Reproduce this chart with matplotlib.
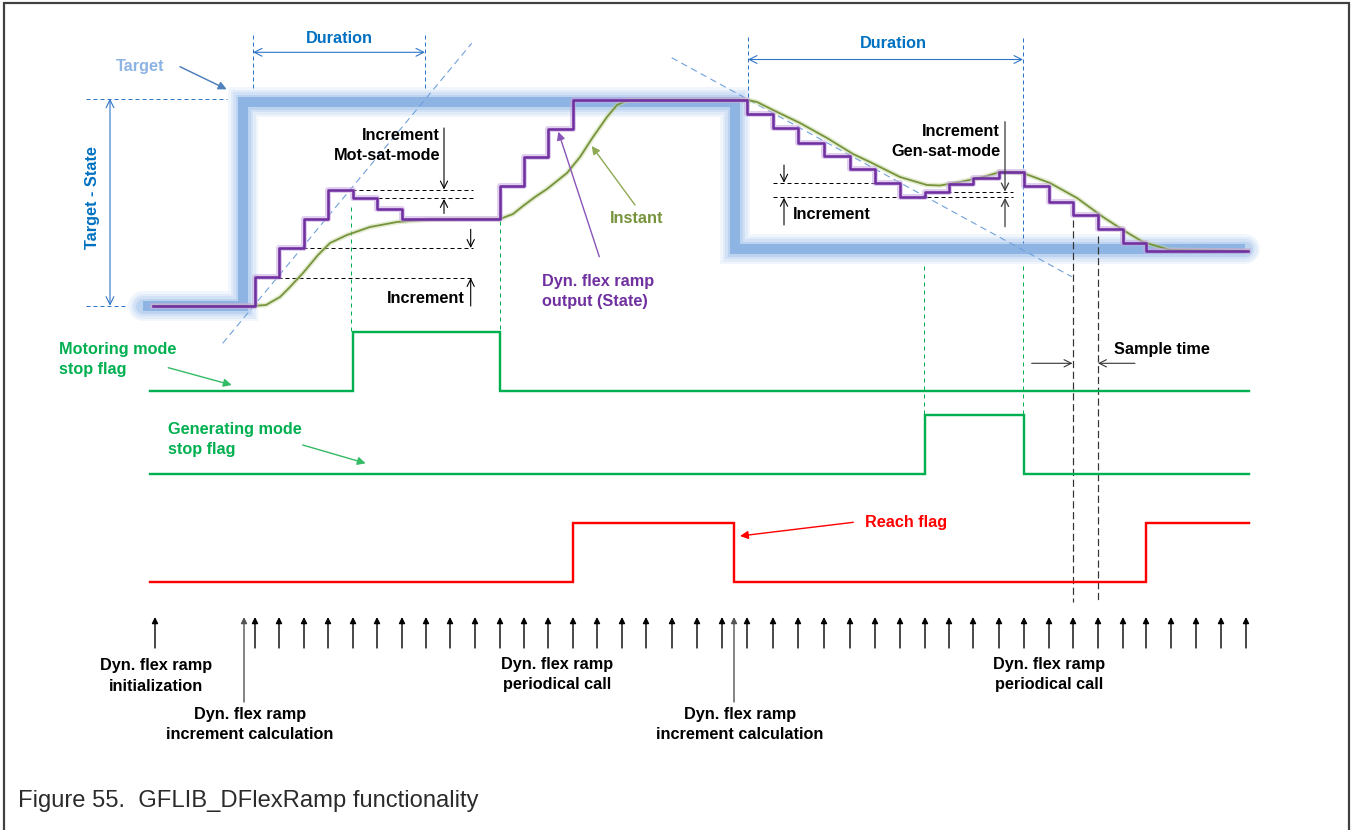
import matplotlib
matplotlib.use("Agg")
import matplotlib.pyplot as plt

# ---------------- data (pixel-space schematic units) ----------------
call_times = [255, 279, 304, 328, 353, 377, 402, 426, 450, 475, 500, 524, 548, 573,
              597, 622, 646, 672, 697, 722, 747, 773, 798, 824, 850, 875, 900, 925,
              949, 973, 999, 1024, 1049, 1073, 1098, 1123, 1146, 1171, 1196, 1221, 1246]
init_time = 155
incr_calc_times = [244, 734]

state_start = (153, 306)
state_after_call = [277, 248, 219, 190, 198, 209, 219, 219, 219, 219, 186, 157, 129, 100,
                    100, 100, 100, 100, 100, 100, 114, 128, 143, 156, 169, 183, 197, 192,
                    184, 178, 172, 186, 202, 215, 229, 243, 251, 251, 251, 251, 251]
state_end_x = 1248

target_x = [143, 243, 243, 735, 735, 1245]
target_y = [306, 306, 102, 102, 249, 249]

instant_x = [153, 252, 266, 280, 290, 303, 318, 330, 347, 370, 397, 430, 463, 500, 513,
             523, 535, 547, 567, 580, 593, 607, 617, 627, 640, 748, 757, 773, 800, 827,
             853, 870, 900, 927, 940, 960, 983, 1000, 1023, 1050, 1077, 1103, 1123, 1143,
             1170, 1248]
instant_y = [306, 306, 305, 297, 287, 273, 255, 243, 235, 227, 222, 219.5, 219, 219, 214,
             206, 197, 189, 173, 157, 137, 117, 105, 100.5, 100, 100, 102, 110, 123, 138,
             154, 162, 177, 185, 185.5, 182, 177, 172, 173, 183, 198, 217, 230, 242,
             250, 251]

mot_flag_x = [150, 353, 353, 500, 500, 1249]
mot_flag_y = [391, 391, 332, 332, 391, 391]
gen_flag_x = [150, 925, 925, 1024, 1024, 1249]
gen_flag_y = [474, 474, 415, 415, 474, 474]
reach_flag_x = [150, 573, 573, 734, 734, 1146, 1146, 1249]
reach_flag_y = [582, 582, 523, 523, 582, 582, 523, 523]

# ---------------- styles ----------------
P = 0.72  # points per pixel at dpi 100
BLUE_TXT = "#0070C0"
TARGET_C = "#8EB4E3"
GREEN = "#00B050"
RED = "#FF0000"
PURPLE = "#7030A0"
OLIVE = "#77933C"
FONT = "Liberation Sans"
FS = 11.7

fig = plt.figure(figsize=(13.52, 8.30), dpi=100)
ax = fig.add_axes([0, 0, 1, 1])
ax.set_xlim(0, 1352)
ax.set_ylim(830, 0)
ax.axis("off")


def txt(x, y, s, color="black", ha="center", va="center", size=FS, weight="bold", **kw):
    ax.text(x, y, s, color=color, ha=ha, va=va, fontsize=size, fontweight=weight,
            family=FONT, **kw)


def arrow(tail, head, color="black", style="->", lw=1.0, ms=10, z=5):
    ax.annotate("", xy=head, xytext=tail,
                arrowprops=dict(arrowstyle=style, color=color, lw=lw * P,
                                shrinkA=0, shrinkB=0, mutation_scale=ms), zorder=z)


def dline(xs, ys, color, lw=1.0, dash=(4, 3), z=3):
    ax.plot(xs, ys, color=color, lw=lw * P, dashes=dash, zorder=z)


# border
ax.plot([4, 4, 1349, 1349], [830, 3, 3, 830], color="#404040", lw=2.2 * P,
        solid_joinstyle="miter", zorder=10)

# target with glow
for w, a in [(30, 0.16), (25, 0.2), (20, 0.28), (15, 0.5)]:
    ax.plot(target_x, target_y, color="#A9C8EE", lw=w * P, alpha=a,
            solid_capstyle="round", solid_joinstyle="miter", zorder=1)
ax.plot(target_x, target_y, color=TARGET_C, lw=10 * P, solid_capstyle="butt",
        solid_joinstyle="miter", zorder=1.5)

# ramp dashed lines (blue)
dline([222.7, 471.7], [343.3, 43.3], "#6FA0DC", lw=1.1, dash=(6, 4))
dline([671.7, 1071.7], [57.7, 276.7], "#6FA0DC", lw=1.1, dash=(6, 4))

# duration markers
for x, y0, y1 in [(253, 35, 90), (425, 35, 90), (748, 37, 98), (1023, 38, 243)]:
    dline([x, x], [y0, y1], "#2E75C8", lw=1.0, dash=(4, 3))
arrow((253, 52.3), (425, 52.3), color="#2E75C8", style="<->", lw=1.1, ms=14)
arrow((748, 59.5), (1023, 59.5), color="#2E75C8", style="<->", lw=1.1, ms=14)
txt(339, 38.3, "Duration", color=BLUE_TXT)
txt(893, 44, "Duration", color=BLUE_TXT)

# Target - State
dline([86, 227], [98.7, 98.7], "#2E75C8", lw=1.0, dash=(4, 3))
dline([86, 127], [305.7, 305.7], "#2E75C8", lw=1.0, dash=(4, 3))
arrow((110, 305.7), (110, 98.7), color="#2E75C8", style="<->", lw=1.1, ms=14)
txt(92, 197.5, "Target - State", color=BLUE_TXT, rotation=90)
txt(140.5, 66.5, "Target", color=TARGET_C)
arrow((180, 66.7), (226.7, 89.3), color="#4F81BD", style="-|>", lw=1.5, ms=12)

# green dashed verticals
for x, y0, y1 in [(351, 207, 331), (500, 221, 331), (923.5, 266, 414), (1023.3, 266, 414)]:
    dline([x, x], [y0, y1], GREEN, lw=1.0, dash=(4, 4))

# sample time dashed verticals
dline([1073, 1073], [220, 602], "#333333", lw=1.2, dash=(6, 3))
dline([1097.5, 1097.5], [236, 602], "#333333", lw=1.2, dash=(6, 3))
arrow((1031.7, 363.3), (1072.5, 363.3), color="#333333", style="->", lw=1.1, ms=13)
arrow((1135, 363.3), (1098, 363.3), color="#333333", style="->", lw=1.1, ms=13)
txt(1114, 349.3, "Sample time", ha="left")

# increment dashed lines (black)
for y, x0, x1 in [(190, 352, 473), (198.5, 378, 473), (248.3, 303, 473), (277.7, 278, 473),
                  (183, 773, 875), (197.3, 773, 1013), (192.2, 926, 1013)]:
    dline([x0, x1], [y, y], "black", lw=1.0, dash=(4, 3), z=3)

# increment arrows
arrow((444, 128), (444, 189.5), lw=1.1, ms=13)
arrow((444, 213.5), (444, 199), lw=1.1, ms=13)
arrow((470.7, 229.3), (470.7, 248), lw=1.1, ms=13)
arrow((470.7, 306), (470.7, 278), lw=1.1, ms=13)
arrow((784, 165), (784, 182.7), lw=1.1, ms=13)
arrow((784, 225), (784, 197.8), lw=1.1, ms=13)
arrow((1005, 121.7), (1005, 191.7), color="#404040", lw=1.3, ms=13)
arrow((1005, 226.7), (1005, 197.8), color="#404040", lw=1.3, ms=13)

txt(440, 135, "Increment", ha="right")
txt(440, 155, "Mot-sat-mode", ha="right")
txt(464.3, 298.3, "Increment", ha="right")
txt(793.3, 214.3, "Increment", ha="left")
txt(1000, 131.7, "Increment", ha="right")
txt(1000, 151.7, "Gen-sat-mode", ha="right")

# instant curve
ax.plot(instant_x, instant_y, color="#C3D69B", lw=5 * P, alpha=0.45,
        solid_joinstyle="round", zorder=4)
ax.plot(instant_x, instant_y, color=OLIVE, lw=1.8 * P, solid_joinstyle="round", zorder=4.2)

# state staircase
sx = [state_start[0]] + call_times + [state_end_x]
sy = [state_start[1]] + state_after_call + [state_after_call[-1]]
ax.step(sx, sy, where="post", color="#C8A8E0", lw=6 * P, alpha=0.55, zorder=4.5)
ax.step(sx, sy, where="post", color=PURPLE, lw=2.6 * P, zorder=4.8)

# state / instant labels
txt(542, 281, "Dyn. flex ramp", color=PURPLE, ha="left")
txt(542, 301, "output (State)", color=PURPLE, ha="left")
arrow((599.3, 256.7), (558.3, 131.7), color="#8A55B8", style="-|>", lw=1.4, ms=12)
txt(636.7, 218.3, "Instant", color=OLIVE)
arrow((635, 205), (591.7, 146), color="#8FAA55", style="-|>", lw=1.4, ms=12)

# flags
ax.plot(mot_flag_x, mot_flag_y, color=GREEN, lw=2.4 * P, solid_joinstyle="miter", zorder=4)
ax.plot(gen_flag_x, gen_flag_y, color=GREEN, lw=2.4 * P, solid_joinstyle="miter", zorder=4)
ax.plot(reach_flag_x, reach_flag_y, color=RED, lw=2.4 * P, solid_joinstyle="miter", zorder=4)

txt(59.3, 349.3, "Motoring mode", color=GREEN, ha="left")
txt(59.3, 369.3, "stop flag", color=GREEN, ha="left")
arrow((168.3, 367.7), (231.7, 385), color="#33BB66", style="-|>", lw=1.4, ms=12)
txt(167.7, 429.3, "Generating mode", color=GREEN, ha="left")
txt(167.7, 449.3, "stop flag", color=GREEN, ha="left")
arrow((302.7, 445), (365.7, 463.3), color="#33BB66", style="-|>", lw=1.4, ms=12)
txt(865, 522.7, "Reach flag", color=RED, ha="left")
arrow((853.3, 522.3), (740, 536), color=RED, style="-|>", lw=1.4, ms=12)

# call arrows
for x in call_times + [init_time]:
    arrow((x, 648), (x, 617), color="black", style="-|>", lw=1.4, ms=9)
for x in incr_calc_times:
    arrow((x, 702), (x, 617), color="#555555", style="-|>", lw=1.4, ms=9)

txt(155.6, 665, "Dyn. flex ramp")
txt(155.6, 686, "initialization")
txt(250, 714, "Dyn. flex ramp")
txt(250, 734, "increment calculation")
txt(557.5, 664, "Dyn. flex ramp")
txt(557.5, 684, "periodical call")
txt(740, 714, "Dyn. flex ramp")
txt(740, 734, "increment calculation")
txt(1049.5, 664, "Dyn. flex ramp")
txt(1049.5, 684, "periodical call")

# caption
txt(18, 801, "Figure 55.  GFLIB_DFlexRamp functionality", color="#2b2b2b", ha="left",
    size=17.1, weight="normal")

fig.savefig("out.png", dpi=100)
